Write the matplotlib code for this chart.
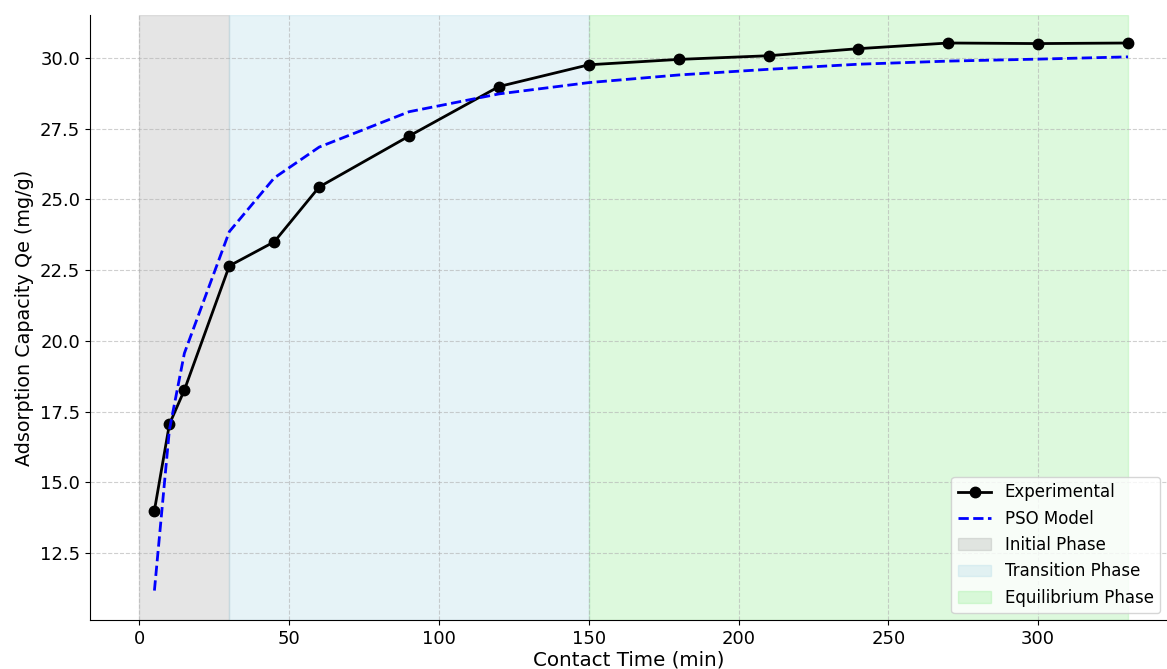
import matplotlib.pyplot as plt

# contact time (min) and measured / model adsorption capacity (mg/g)
time_min = [5, 10, 15, 30, 45, 60, 90, 120, 150, 180, 210, 240, 270, 300, 330]
qe_exp = [14.0, 17.05, 18.26, 22.65, 23.5, 25.44, 27.24, 28.99, 29.76, 29.95,
          30.08, 30.33, 30.53, 30.51, 30.53]
qe_pso = [11.17, 16.85, 19.56, 23.86, 25.76, 26.85, 28.1, 28.73, 29.13, 29.4,
          29.6, 29.78, 29.89, 29.96, 30.04]

# phase boundaries (min)
phases = [("Initial Phase", 0, 30, "gray", 0.2),
          ("Transition Phase", 30, 150, "lightblue", 0.3),
          ("Equilibrium Phase", 150, 330, "lightgreen", 0.3)]

plt.rcParams['font.size'] = 13

fig = plt.figure(figsize=(11.67, 6.69), dpi=100)
ax = fig.add_axes([90 / 1167, 49 / 669, 1 - 90 / 1167, (620 - 15) / 669])

ax.plot(time_min, qe_exp, 'o-', color='black', lw=2, ms=7.5, label='Experimental')
ax.plot(time_min, qe_pso, '--', color='blue', lw=2, label='PSO Model')
for name, start, end, col, a in phases:
    ax.axvspan(start, end, color=col, alpha=a, label=name)

ax.set_xlim(-16.5, 343)
ax.set_ylim(10.13, 31.52)
ax.set_xlabel('Contact Time (min)', fontsize=14.3, labelpad=2)
ax.set_ylabel('Adsorption Capacity Qe (mg/g)', fontsize=13.8)
ax.grid(True, linestyle='--', alpha=0.6)
ax.spines['top'].set_visible(False)
ax.spines['right'].set_visible(False)
ax.legend(loc='lower right', fontsize=12, borderaxespad=0.4)

plt.savefig('out.png', dpi=100)
